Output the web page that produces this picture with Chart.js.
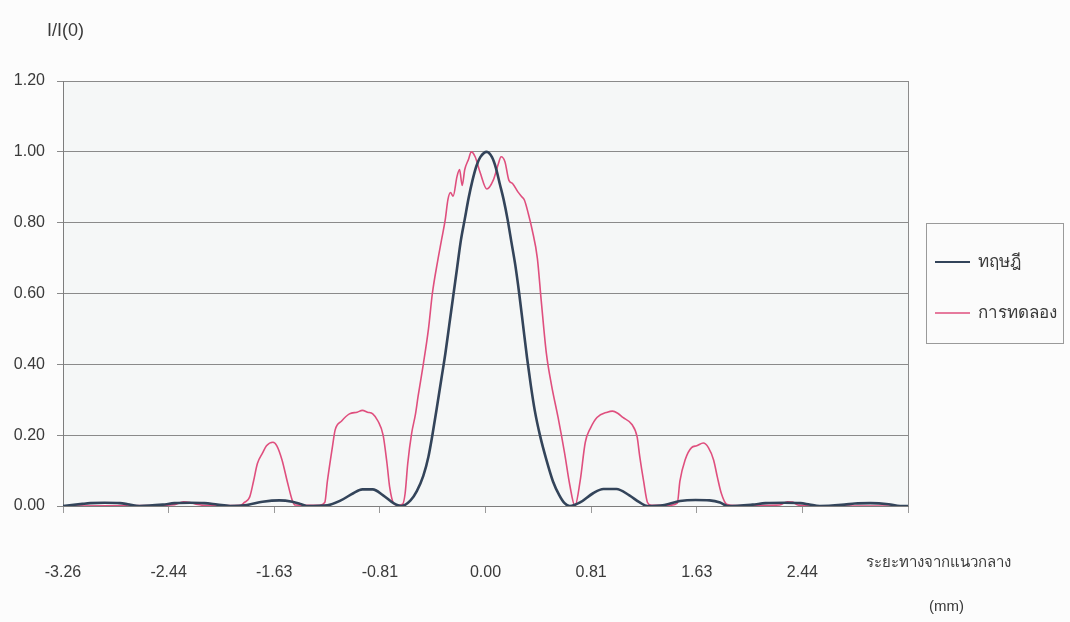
<!DOCTYPE html>
<html>
<head>
<meta charset="utf-8">
<script src="https://cdn.jsdelivr.net/npm/chart.js@4.4.1/dist/chart.umd.min.js"></script>
<style>
  html, body { margin: 0; padding: 0; background: #fcfcfc; }
  #wrap { width: 1070px; height: 622px; position: relative; }
</style>
</head>
<body>
<div id="wrap"><canvas id="diffChart" width="1070" height="622"></canvas></div>
<script>
// distance from the centre line (mm) and normalised intensity I/I(0)
const theoryX = [-3.26, -3.11, -3.05, -2.94, -2.82, -2.76, -2.67, -2.49, -2.40, -2.28, -2.17, -2.07, -1.97,
  -1.84, -1.72, -1.59, -1.49, -1.43, -1.38, -1.22, -1.12, -1.02, -0.95, -0.87, -0.79, -0.71, -0.65,
  -0.58, -0.53, -0.48, -0.44, -0.41, -0.37, -0.34, -0.31, -0.28, -0.25, -0.22, -0.19, -0.16, -0.13, -0.10, -0.07, -0.04,
  0.01, 0.05, 0.08, 0.11, 0.14, 0.17, 0.20, 0.23, 0.26, 0.29, 0.32, 0.35, 0.38, 0.42, 0.47, 0.52, 0.57, 0.61, 0.65,
  0.73, 0.83, 0.91, 1.01, 1.11, 1.19, 1.25, 1.38, 1.50, 1.62, 1.73, 1.81, 1.87,
  2.06, 2.16, 2.31, 2.43, 2.50, 2.58, 2.77, 2.85, 2.97, 3.11, 3.20, 3.26];
const theoryY = [0, 0.006, 0.008, 0.009, 0.008, 0.005, 0, 0.004, 0.008, 0.009, 0.008, 0.004, 0,
  0.003, 0.012, 0.016, 0.012, 0.006, 0, 0.002, 0.015, 0.036, 0.047, 0.047, 0.030, 0.008, 0,
  0.015, 0.042, 0.085, 0.14, 0.20, 0.29, 0.36, 0.43, 0.51, 0.59, 0.67, 0.75, 0.81, 0.87, 0.92, 0.96, 0.985,
  1.00, 0.985, 0.955, 0.91, 0.865, 0.81, 0.745, 0.68, 0.60, 0.51, 0.42, 0.34, 0.27, 0.20, 0.13, 0.07, 0.03, 0.008, 0,
  0.01, 0.036, 0.048, 0.048, 0.030, 0.01, 0, 0.003, 0.014, 0.017, 0.016, 0.01, 0,
  0.004, 0.008, 0.009, 0.008, 0.004, 0, 0.004, 0.007, 0.008, 0.005, 0, 0];

const experimentX = [-3.26, -2.60, -2.40, -2.33, -2.28, -2.22, -2.13, -1.89,
  -1.86, -1.82, -1.79, -1.76, -1.72, -1.69, -1.64, -1.61, -1.57, -1.53, -1.49, -1.47,
  -1.28, -1.24, -1.22, -1.18, -1.16, -1.11, -1.05, -0.99, -0.95, -0.91, -0.87, -0.83, -0.79, -0.76, -0.74, -0.71, -0.68,
  -0.64, -0.62, -0.60, -0.57, -0.54, -0.52, -0.48, -0.44, -0.41, -0.37, -0.34, -0.31, -0.29, -0.27, -0.25,
  -0.22, -0.20, -0.18, -0.16, -0.13, -0.11, -0.08, -0.04, 0.01, 0.06, 0.10, 0.12, 0.15, 0.18, 0.21, 0.25, 0.28, 0.30,
  0.33, 0.36, 0.40, 0.43, 0.47, 0.51, 0.56, 0.61, 0.65, 0.69,
  0.73, 0.77, 0.81, 0.86, 0.94, 0.98, 1.02, 1.06, 1.13, 1.17, 1.19, 1.22, 1.25, 1.28,
  1.42, 1.48, 1.50, 1.54, 1.59, 1.63, 1.68, 1.72, 1.76, 1.79, 1.82, 1.86, 1.93,
  2.27, 2.33, 2.37, 2.41, 2.58, 3.26];
const experimentY = [0, 0.001, 0.004, 0.012, 0.010, 0.004, 0.001, 0.002,
  0.01, 0.025, 0.07, 0.12, 0.15, 0.17, 0.18, 0.17, 0.13, 0.07, 0.015, 0.003,
  0.002, 0.01, 0.07, 0.17, 0.215, 0.24, 0.26, 0.265, 0.27, 0.265, 0.26, 0.24, 0.20, 0.12, 0.055, 0.008, 0.002,
  0.005, 0.036, 0.12, 0.205, 0.26, 0.31, 0.40, 0.50, 0.60, 0.69, 0.75, 0.81, 0.865, 0.885, 0.875,
  0.93, 0.95, 0.905, 0.95, 0.98, 1.00, 0.986, 0.94, 0.895, 0.92, 0.967, 0.986, 0.972, 0.92, 0.91, 0.887, 0.873, 0.864,
  0.826, 0.78, 0.70, 0.58, 0.43, 0.34, 0.25, 0.15, 0.06, 0,
  0.07, 0.18, 0.22, 0.25, 0.265, 0.268, 0.262, 0.25, 0.23, 0.195, 0.14, 0.07, 0.01, 0.002,
  0.002, 0.008, 0.07, 0.13, 0.165, 0.17, 0.178, 0.165, 0.13, 0.08, 0.035, 0.005, 0.001,
  0.003, 0.012, 0.011, 0.003, 0, 0];

const xTickValues = [-3.26, -2.445, -1.63, -0.815, 0, 0.815, 1.63, 2.445, 3.26];
const xTickLabels = ["-3.26", "-2.44", "-1.63", "-0.81", "0.00", "0.81", "1.63", "2.44", ""];
const seriesNames = ["ทฤษฎี", "การทดลอง"];

const toPoints = (xs, ys) => xs.map((x, i) => ({ x: x, y: ys[i] }));

const FONT = "'Liberation Sans', Arial, sans-serif";
const TEXT = "#3a3a3a";

// plot background, right border, legend box and free-standing titles
const decor = {
  id: "decor",
  beforeDraw(chart) {
    const { ctx, chartArea: a } = chart;
    ctx.save();
    ctx.fillStyle = "#f5f7f7";
    ctx.fillRect(a.left, a.top, a.right - a.left, a.bottom - a.top);
    ctx.restore();
  },
  afterDraw(chart) {
    const { ctx, chartArea: a } = chart;
    ctx.save();
    ctx.strokeStyle = "#8c8c8c";
    ctx.lineWidth = 1;
    ctx.beginPath();
    ctx.moveTo(a.right + 0.5, a.top);
    ctx.lineTo(a.right + 0.5, a.bottom);
    ctx.stroke();

    ctx.fillStyle = TEXT;
    ctx.font = "18px " + FONT;
    ctx.textBaseline = "middle";
    ctx.textAlign = "left";
    ctx.fillText("I/I(0)", 47, 31);
    ctx.font = "15px " + FONT;
    ctx.fillText("ระยะทางจากแนวกลาง", 866, 563);
    ctx.fillText("(mm)", 929, 607);

    // legend
    ctx.fillStyle = "#fbfbfb";
    ctx.fillRect(926, 223, 137, 120);
    ctx.strokeStyle = "#9a9a9a";
    ctx.lineWidth = 1;
    ctx.strokeRect(926.5, 223.5, 137, 120);
    const rows = [262, 313];
    chart.data.datasets.forEach((ds, i) => {
      ctx.strokeStyle = ds.borderColor;
      ctx.lineWidth = i === 0 ? 2 : 1.5;
      ctx.beginPath();
      ctx.moveTo(935, rows[i]);
      ctx.lineTo(970, rows[i]);
      ctx.stroke();
      ctx.fillStyle = TEXT;
      ctx.font = "17px " + FONT;
      ctx.fillText(ds.label, 978, rows[i]);
    });
    ctx.restore();
  }
};

const ctx = document.getElementById("diffChart").getContext("2d");
new Chart(ctx, {
  type: "line",
  data: {
    datasets: [
      {
        label: seriesNames[0],
        data: toPoints(theoryX, theoryY),
        borderColor: "#33445a",
        borderWidth: 2.6,
        pointRadius: 0,
        cubicInterpolationMode: "monotone"
      },
      {
        label: seriesNames[1],
        data: toPoints(experimentX, experimentY),
        borderColor: "#df4f7e",
        borderWidth: 1.6,
        pointRadius: 0,
        cubicInterpolationMode: "monotone"
      }
    ]
  },
  options: {
    responsive: false,
    animation: false,
    events: [],
    layout: { padding: { left: 0, top: 81, right: 162, bottom: 0 } },
    plugins: {
      legend: { display: false },
      tooltip: { enabled: false }
    },
    scales: {
      x: {
        type: "linear",
        min: -3.26,
        max: 3.26,
        afterBuildTicks: scale => {
          scale.ticks = xTickValues.map(v => ({ value: v }));
        },
        afterFit: scale => {
          // the label gap below the axis should not push the plot sideways
          scale.height = 116;
          scale.paddingLeft = 0;
          scale.paddingRight = 0;
        },
        grid: {
          drawOnChartArea: false,
          drawTicks: true,
          tickLength: 7,
          color: "#9a9a9a"
        },
        border: { color: "#7d7d7d", width: 1 },
        ticks: {
          autoSkip: false,
          maxRotation: 0,
          padding: 50,
          color: TEXT,
          font: { family: FONT, size: 16 },
          callback: (v, i) => xTickLabels[i]
        }
      },
      y: {
        min: 0,
        max: 1.2,
        afterFit: scale => { scale.width = 63; },
        ticks: {
          stepSize: 0.2,
          padding: 12,
          color: TEXT,
          font: { family: FONT, size: 16 },
          callback: v => v.toFixed(2)
        },
        grid: {
          color: "#8a8a8a",
          lineWidth: 1,
          drawTicks: true,
          tickLength: 6
        },
        border: { color: "#7d7d7d", width: 1 }
      }
    }
  },
  plugins: [decor]
});
</script>
</body>
</html>
